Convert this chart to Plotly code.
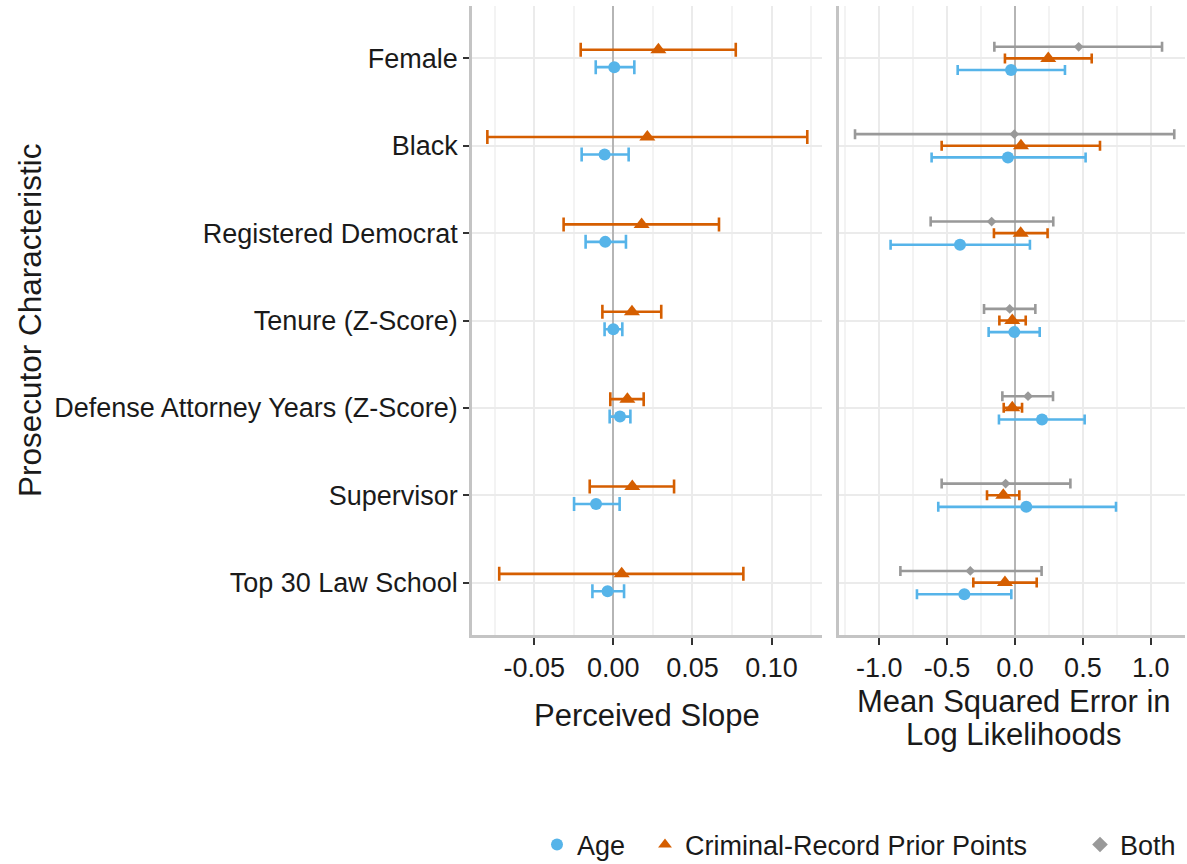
import plotly.graph_objects as go

# ---------------- data ----------------
categories = ["Female", "Black", "Registered Democrat", "Tenure (Z-Score)",
              "Defense Attorney Years (Z-Score)", "Supervisor", "Top 30 Law School"]

# Left panel: Perceived Slope
slope_age_est = [0.0006, -0.0055, -0.0051, 0.0000, 0.0042, -0.0109, -0.0036]
slope_age_lo  = [-0.0111, -0.0200, -0.0175, -0.0055, -0.0023, -0.0248, -0.0132]
slope_age_hi  = [0.0133, 0.0097, 0.0080, 0.0057, 0.0108, 0.0040, 0.0068]

slope_cr_est = [0.0285, 0.0215, 0.0179, 0.0118, 0.0089, 0.0120, 0.0053]
slope_cr_lo  = [-0.0206, -0.0796, -0.0314, -0.0069, -0.0019, -0.0149, -0.0721]
slope_cr_hi  = [0.0774, 0.1226, 0.0668, 0.0303, 0.0192, 0.0384, 0.0822]

# Right panel: Mean Squared Error in Log Likelihoods
mse_age_est = [-0.029, -0.052, -0.405, -0.005, 0.199, 0.083, -0.373]
mse_age_lo  = [-0.422, -0.614, -0.916, -0.194, -0.118, -0.565, -0.722]
mse_age_hi  = [0.368, 0.520, 0.110, 0.182, 0.513, 0.744, -0.027]

mse_cr_est = [0.245, 0.044, 0.042, -0.020, -0.020, -0.086, -0.074]
mse_cr_lo  = [-0.074, -0.540, -0.155, -0.115, -0.083, -0.206, -0.307]
mse_cr_hi  = [0.565, 0.626, 0.240, 0.079, 0.052, 0.032, 0.160]

mse_both_est = [0.469, -0.005, -0.172, -0.039, 0.096, -0.069, -0.329]
mse_both_lo  = [-0.152, -1.178, -0.621, -0.228, -0.093, -0.540, -0.844]
mse_both_hi  = [1.083, 1.173, 0.282, 0.150, 0.280, 0.408, 0.196]

left_ticks = [-0.05, 0.0, 0.05, 0.10]
right_ticks = [-1.0, -0.5, 0.0, 0.5, 1.0]

# ---------------- style ----------------
C_AGE = "#56B4E9"
C_CR = "#D55E00"
C_BOTH = "#999999"
FONT = "Liberation Sans, Arial, Helvetica, sans-serif"
TXT = "#1a1a1a"

n = len(categories)
ypos = [n - i for i in range(n)]  # Female at top


def err(est, lo, hi):
    return ([h - e for e, h in zip(est, hi)], [e - l for e, l in zip(est, lo)])


fig = go.Figure()


def add(est, lo, hi, offset, color, symbol, size, name, xa, ya, show, capw, leg):
    plus, minus = err(est, lo, hi)
    fig.add_trace(go.Scatter(
        x=est, y=[y + offset for y in ypos], mode="markers",
        marker=dict(color=color, symbol=symbol, size=size, line=dict(width=0)),
        error_x=dict(type="data", array=plus, arrayminus=minus, symmetric=False,
                     color=color, thickness=2.6, width=capw),
        name=name, legendgroup=name, showlegend=show, legend=leg,
        xaxis=xa, yaxis=ya, hoverinfo="skip",
    ))


# left panel
add(slope_age_est, slope_age_lo, slope_age_hi, -0.1, C_AGE, "circle", 12, "Age", "x", "y", True, 7, "legend")
add(slope_cr_est, slope_cr_lo, slope_cr_hi, 0.1, C_CR, "triangle-up", 14, "Criminal-Record Prior Points", "x", "y", True, 7, "legend2")
# right panel
add(mse_age_est, mse_age_lo, mse_age_hi, -0.133, C_AGE, "circle", 12, "Age", "x2", "y2", False, 5, "legend")
add(mse_cr_est, mse_cr_lo, mse_cr_hi, 0.0, C_CR, "triangle-up", 14, "Criminal-Record Prior Points", "x2", "y2", False, 5, "legend2")
add(mse_both_est, mse_both_lo, mse_both_hi, 0.133, C_BOTH, "diamond", 7.5, "Both", "x2", "y2", True, 5, "legend3")

W, H = 1187, 864
ydom = [(H - 635) / H, (H - 6) / H]
GRID = "#EBEBEB"
MINOR = "#F3F3F3"
AXL = "#C4C4C4"

xcommon = dict(showgrid=True, gridcolor=GRID, gridwidth=2,
               zeroline=True, zerolinecolor="#B5B5B5", zerolinewidth=2,
               showline=True, linecolor=AXL, linewidth=2.5,
               ticks="outside", ticklen=7, tickwidth=2, tickcolor="#333333",
               tickfont=dict(family=FONT, size=27, color=TXT),
               ticklabelstandoff=0, fixedrange=True)


def leg(text_x):
    return dict(orientation="h", x=(text_x - 40) / W, xanchor="left",
                y=(H - 845) / H, yanchor="middle",
                font=dict(family=FONT, size=27, color=TXT),
                bgcolor="rgba(0,0,0,0)", itemsizing="constant")


fig.update_layout(
    width=W, height=H,
    margin=dict(l=0, r=0, t=0, b=0, autoexpand=False),
    paper_bgcolor="white", plot_bgcolor="white",
    font=dict(family=FONT, color=TXT),
    xaxis=dict(domain=[472 / W, 822 / W], range=[-0.0893, 0.1319],
               tickvals=left_ticks, ticktext=[f"{v:.2f}" for v in left_ticks],
               minor=dict(dtick=0.025, tick0=0, showgrid=True, gridcolor=MINOR, gridwidth=1.5),
               anchor="y", **xcommon),
    xaxis2=dict(domain=[839 / W, 1185 / W], range=[-1.296, 1.252],
                tickvals=right_ticks, ticktext=[f"{v:.1f}" for v in right_ticks],
                minor=dict(dtick=0.25, tick0=0, showgrid=True, gridcolor=MINOR, gridwidth=1.5),
                anchor="y2", **xcommon),
    yaxis=dict(domain=ydom, range=[0.4, 7.6], tickvals=ypos, ticktext=categories,
               showgrid=True, gridcolor=GRID, gridwidth=2, zeroline=False,
               showline=True, linecolor=AXL, linewidth=2.5,
               ticks="outside", ticklen=6, tickwidth=2, tickcolor="#333333",
               tickfont=dict(family=FONT, size=27, color=TXT),
               anchor="x", fixedrange=True),
    yaxis2=dict(domain=ydom, range=[0.4, 7.6], tickvals=ypos, showticklabels=False,
                showgrid=True, gridcolor=GRID, gridwidth=2, zeroline=False,
                showline=True, linecolor=AXL, linewidth=2.5, ticks="",
                anchor="x2", fixedrange=True),
    legend=leg(577),
    legend2=leg(685),
    legend3=leg(1120),
    showlegend=True,
)

fig.add_annotation(text="Prosecutor Characteristic", x=30 / W, y=(H - 320) / H,
                   xref="paper", yref="paper", showarrow=False, textangle=-90,
                   xanchor="center", yanchor="middle",
                   font=dict(family=FONT, size=31.5, color=TXT))
fig.add_annotation(text="Perceived Slope", x=647 / W, y=(H - 715) / H,
                   xref="paper", yref="paper", showarrow=False,
                   xanchor="center", yanchor="middle",
                   font=dict(family=FONT, size=31, color=TXT))
fig.add_annotation(text="Mean Squared Error in", x=1014 / W, y=(H - 701) / H,
                   xref="paper", yref="paper", showarrow=False,
                   xanchor="center", yanchor="middle",
                   font=dict(family=FONT, size=31, color=TXT))
fig.add_annotation(text="Log Likelihoods", x=1014 / W, y=(H - 734) / H,
                   xref="paper", yref="paper", showarrow=False,
                   xanchor="center", yanchor="middle",
                   font=dict(family=FONT, size=31, color=TXT))

fig.write_html("out.html")
